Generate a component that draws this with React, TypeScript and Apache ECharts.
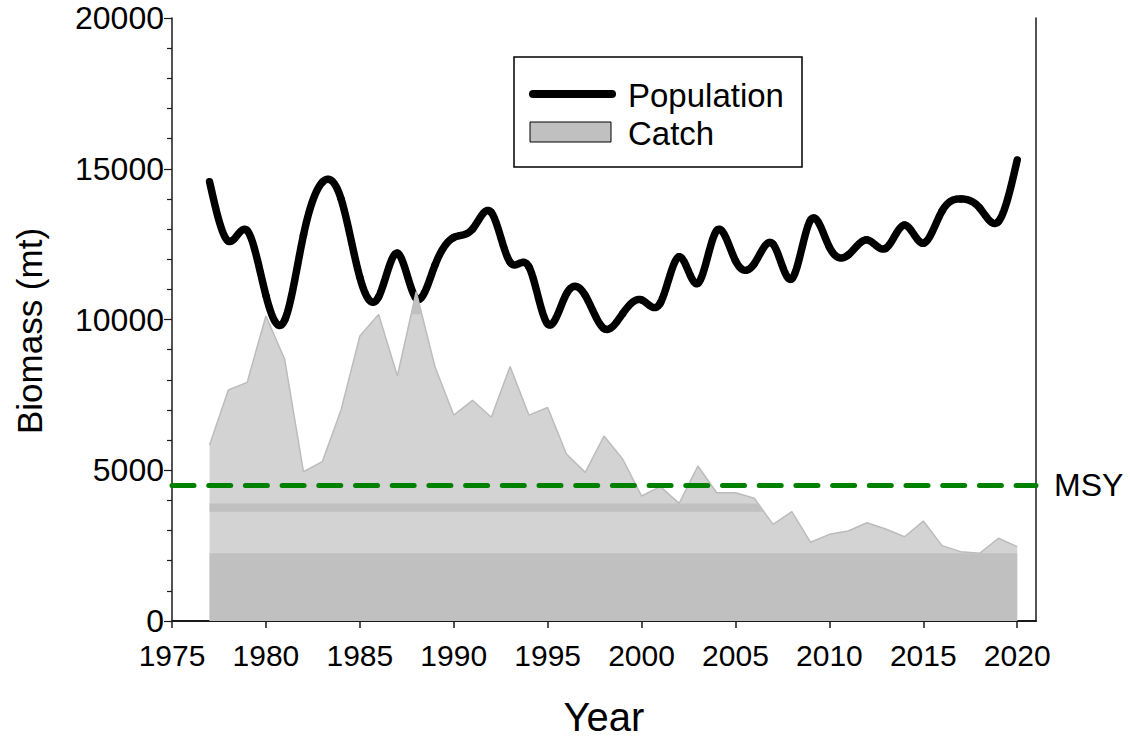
import React, { useEffect, useRef } from "react";
import * as echarts from "echarts";

const years = [
  1977, 1978, 1979, 1980, 1981, 1982, 1983, 1984, 1985, 1986, 1987, 1988, 1989, 1990, 1991,
  1992, 1993, 1994, 1995, 1996, 1997, 1998, 1999, 2000, 2001, 2002, 2003, 2004, 2005, 2006,
  2007, 2008, 2009, 2010, 2011, 2012, 2013, 2014, 2015, 2016, 2017, 2018, 2019, 2020,
];

const population = [
  14570, 12600, 12950, 10800, 9980, 12800, 14550, 14000, 11400, 10750, 12200, 10700, 11800, 12720, 13000,
  13550, 11900, 11750, 9850, 10850, 10800, 9700, 10200, 10650, 10550, 12080, 11200, 12950, 11950, 11850,
  12500, 11350, 13300, 12400, 12140, 12640, 12360, 13130, 12530, 13600, 14000, 13700, 13250, 15290,
];

const catchValues = [
  5840, 7660, 7915, 10115, 8680, 4950, 5285, 7000, 9450, 10170, 8125, 10920, 8435, 6830, 7320,
  6760, 8440, 6830, 7080, 5540, 4930, 6135, 5365, 4145, 4455, 3900, 5140, 4255, 4255, 4070,
  3205, 3625, 2610, 2875, 2985, 3260, 3050, 2795, 3315, 2500, 2300, 2245, 2745, 2465,
];

const MSY = 4500;

// darker fill bands inside the catch area: [fromYear, toYear, lowValue, highValue]
const shadeBands = [
  [1977, 2020, 0, 2245],
  [1977, 2007, 3625, 3900],
  [1987, 1989, 10170, 20000],
];

const yTicks = { min: 0, max: 20000, interval: 5000 };
const xTicks = { min: 1975, max: 2021, interval: 5 };

const FONT = "'Liberation Sans', Arial, Helvetica, sans-serif";

// second derivatives of a natural cubic spline through the population values (unit spacing)
function splineSecondDerivs(y: number[]): number[] {
  const n = y.length;
  const M = new Array(n).fill(0);
  if (n < 3) return M;
  const a: number[] = [];
  const b: number[] = [];
  const c: number[] = [];
  const d: number[] = [];
  for (let i = 1; i < n - 1; i++) {
    a.push(1);
    b.push(4);
    c.push(1);
    d.push(6 * (y[i + 1] - 2 * y[i] + y[i - 1]));
  }
  const m = b.length;
  for (let i = 1; i < m; i++) {
    const w = a[i] / b[i - 1];
    b[i] -= w * c[i - 1];
    d[i] -= w * d[i - 1];
  }
  const sol = new Array(m).fill(0);
  sol[m - 1] = d[m - 1] / b[m - 1];
  for (let i = m - 2; i >= 0; i--) sol[i] = (d[i] - c[i] * sol[i + 1]) / b[i];
  for (let i = 0; i < m; i++) M[i + 1] = sol[i];
  return M;
}

export default function App() {
  const ref = useRef<HTMLDivElement | null>(null);

  useEffect(() => {
    if (!ref.current) return;
    const chart = echarts.init(ref.current, null, { renderer: "svg" });

    const popData = years.map((y, i) => [y, population[i]]);
    const catchData = years.map((y, i) => [y, catchValues[i]]);
    const M = splineSecondDerivs(population);

    const renderPopulation = (params: any, api: any) => {
      const i = params.dataIndex;
      if (i >= years.length - 1) return { type: "group", children: [] };
      const pts: number[][] = [];
      const steps = 24;
      for (let k = 0; k <= steps; k++) {
        const t = k / steps;
        const u = 1 - t;
        const v =
          u * population[i] +
          t * population[i + 1] +
          ((u * u * u - u) * M[i]) / 6 +
          ((t * t * t - t) * M[i + 1]) / 6;
        pts.push(api.coord([years[i] + t * (years[i + 1] - years[i]), v]));
      }
      return {
        type: "polyline",
        shape: { points: pts },
        style: { stroke: "#000", fill: "none", lineWidth: 7.5, lineCap: "round", lineJoin: "round" },
      };
    };

    const renderBand = (params: any, api: any) => {
      const x0 = api.value(0);
      const x1 = api.value(1);
      const lo = api.value(2);
      const hi = api.value(3);
      const clamp = (v: number) => Math.max(lo, Math.min(hi, v));
      const pts: number[][] = [];
      for (let i = 0; i < years.length - 1; i++) {
        const xa = years[i];
        const xb = years[i + 1];
        if (xb < x0 || xa > x1) continue;
        const ya = catchValues[i];
        const yb = catchValues[i + 1];
        const ts = [0, 1];
        [lo, hi].forEach((lvl) => {
          if ((ya - lvl) * (yb - lvl) < 0) ts.push((lvl - ya) / (yb - ya));
        });
        ts.sort((a, b) => a - b);
        for (const t of ts) {
          const x = xa + t * (xb - xa);
          if (x < x0 || x > x1) continue;
          pts.push(api.coord([x, clamp(ya + t * (yb - ya))]));
        }
      }
      pts.push(api.coord([x1, lo]));
      pts.push(api.coord([x0, lo]));
      return {
        type: "polygon",
        shape: { points: pts },
        style: { fill: "#c0c0c0" },
      };
    };

    chart.setOption({
      animation: false,
      backgroundColor: "#ffffff",
      grid: { left: 172, right: 94, top: 18, bottom: 117, containLabel: false },
      xAxis: {
        type: "value",
        min: xTicks.min,
        max: xTicks.max,
        interval: xTicks.interval,
        axisLine: { show: true, onZero: false, lineStyle: { color: "#1a1a1a", width: 2 } },
        axisTick: { show: true, length: 7, lineStyle: { color: "#1a1a1a", width: 1.5 } },
        axisLabel: {
          show: true,
          margin: 19,
          fontSize: 30,
          fontFamily: FONT,
          color: "#000",
          showMaxLabel: false,
          formatter: (v: number) => String(v),
        },
        splitLine: { show: false },
      },
      yAxis: [
        {
          type: "value",
          min: yTicks.min,
          max: yTicks.max,
          interval: yTicks.interval,
          axisLine: { show: true, lineStyle: { color: "#1a1a1a", width: 1.5 } },
          axisTick: { show: true, length: 8, lineStyle: { color: "#1a1a1a", width: 1.2 } },
          minorTick: { show: true, splitNumber: 5, length: 5, lineStyle: { color: "#1a1a1a", width: 1.2 } },
          axisLabel: {
            show: true,
            margin: 8,
            fontSize: 32,
            fontFamily: FONT,
            color: "#000",
            formatter: (v: number) => String(v),
          },
          splitLine: { show: false },
        },
        {
          type: "value",
          position: "right",
          min: yTicks.min,
          max: yTicks.max,
          interval: yTicks.interval,
          axisLine: { show: true, lineStyle: { color: "#1a1a1a", width: 1.5 } },
          axisTick: { show: false },
          axisLabel: { show: false },
          splitLine: { show: false },
        },
      ],
      series: [
        {
          name: "Population",
          type: "custom",
          z: 2,
          data: popData,
          encode: { x: 0, y: 1 },
          renderItem: renderPopulation,
          silent: true,
        },
        {
          name: "Catch",
          type: "line",
          z: 3,
          data: catchData,
          symbol: "none",
          lineStyle: { color: "#bcbcbc", width: 1.5 },
          areaStyle: { color: "#d3d3d3", opacity: 1 },
        },
        {
          name: "shade",
          type: "custom",
          z: 4,
          data: shadeBands,
          encode: { x: [0, 1], y: [2, 3] },
          renderItem: renderBand,
          silent: true,
        },
        {
          name: "MSY",
          type: "line",
          z: 5,
          data: [],
          symbol: "none",
          markLine: {
            silent: true,
            symbol: ["none", "none"],
            data: [{ yAxis: MSY }],
            lineStyle: { color: "#008000", width: 5, type: [22, 14.7], cap: "round" },
            label: {
              show: true,
              position: "end",
              formatter: "MSY",
              distance: 18,
              fontSize: 32,
              fontFamily: FONT,
              color: "#000",
            },
          },
        },
      ],
      graphic: [
        {
          type: "rect",
          z: 10,
          shape: { x: 514, y: 57, width: 288, height: 110 },
          style: { fill: "#ffffff", stroke: "#000", lineWidth: 1.5 },
        },
        {
          type: "line",
          z: 11,
          shape: { x1: 533, y1: 94, x2: 612, y2: 94 },
          style: { stroke: "#000", lineWidth: 8, lineCap: "round" },
        },
        {
          type: "rect",
          z: 11,
          shape: { x: 530, y: 122, width: 81, height: 20 },
          style: { fill: "#c0c0c0", stroke: "#000", lineWidth: 1 },
        },
        {
          type: "text",
          z: 11,
          x: 628,
          y: 95,
          style: {
            text: "Population",
            fontSize: 33,
            fontFamily: FONT,
            fill: "#000",
            align: "left",
            verticalAlign: "middle",
          },
        },
        {
          type: "text",
          z: 11,
          x: 628,
          y: 133,
          style: {
            text: "Catch",
            fontSize: 33,
            fontFamily: FONT,
            fill: "#000",
            align: "left",
            verticalAlign: "middle",
          },
        },
        {
          type: "text",
          z: 11,
          x: 29,
          y: 331,
          rotation: Math.PI / 2,
          style: {
            text: "Biomass (mt)",
            fontSize: 35,
            fontFamily: FONT,
            fill: "#000",
            align: "center",
            verticalAlign: "middle",
          },
        },
        {
          type: "text",
          z: 11,
          x: 604,
          y: 717,
          style: {
            text: "Year",
            fontSize: 40,
            fontFamily: FONT,
            fill: "#000",
            align: "center",
            verticalAlign: "middle",
          },
        },
      ],
    });

    return () => {
      chart.dispose();
    };
  }, []);

  return (
    <div
      ref={ref}
      style={{ position: "fixed", left: 0, top: 0, width: 1130, height: 738, background: "#fff" }}
    />
  );
}
